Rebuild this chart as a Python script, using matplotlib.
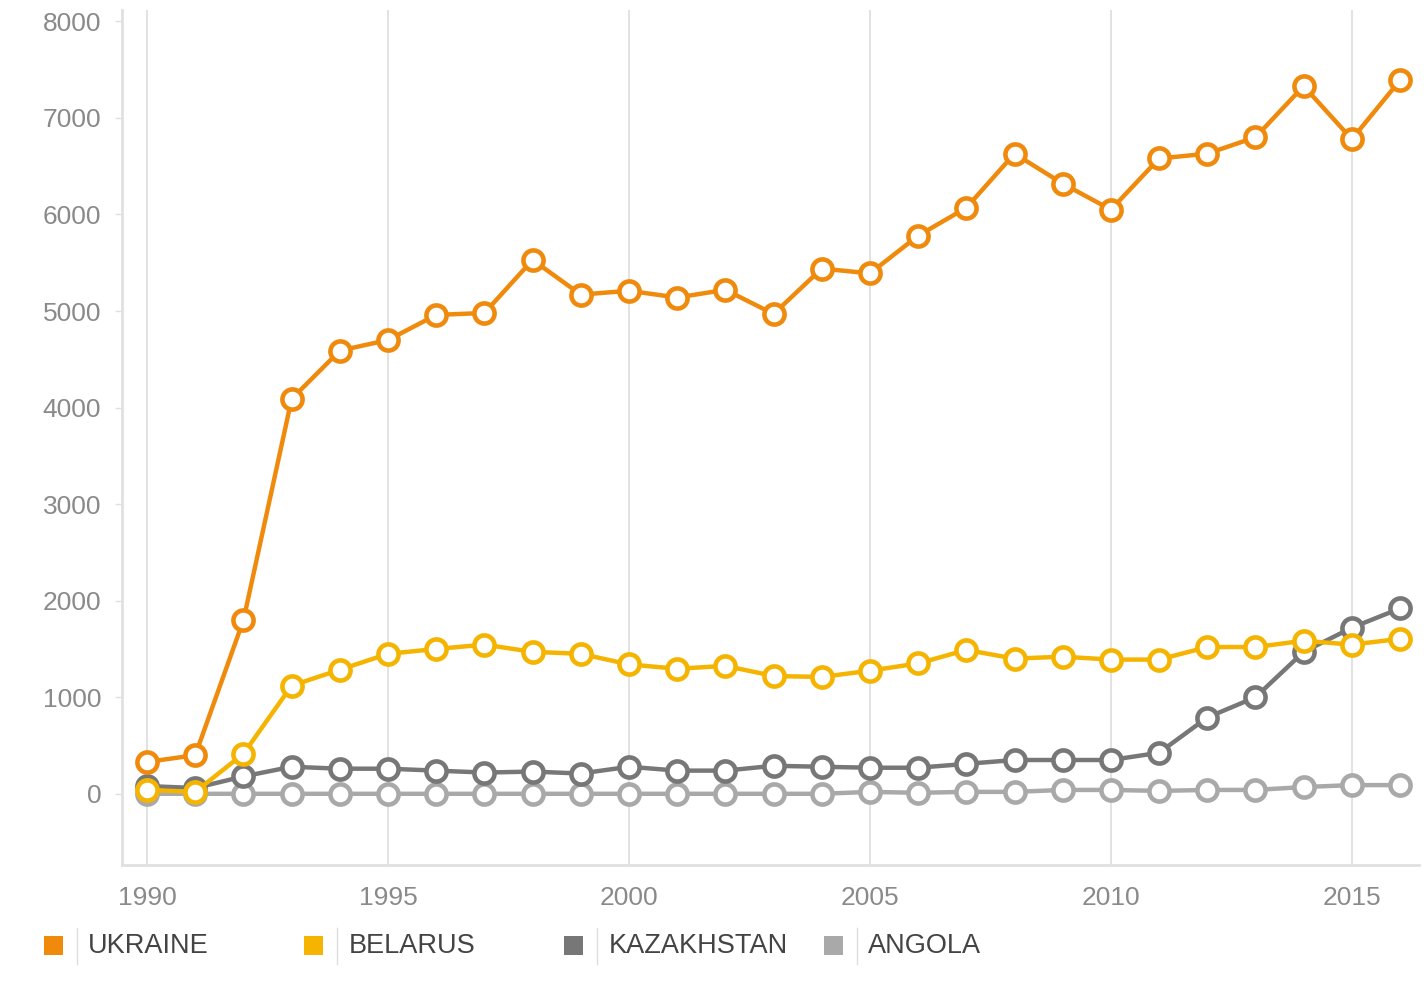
import matplotlib
matplotlib.use('Agg')
import matplotlib.pyplot as plt
from matplotlib.lines import Line2D
from matplotlib.patches import Rectangle
import numpy as np

plt.rcParams['font.family'] = ['Liberation Sans', 'DejaVu Sans']

years = np.arange(1990, 2017)

ukraine = [330, 400, 1800, 4090, 4590, 4700, 4960, 4980, 5530, 5170,
           5210, 5140, 5220, 4970, 5440, 5390, 5780, 6070, 6630, 6320,
           6050, 6580, 6630, 6800, 7330, 6780, 7390]
belarus = [40, 20, 415, 1120, 1285, 1450, 1500, 1545, 1470, 1450,
           1340, 1295, 1325, 1220, 1210, 1275, 1350, 1490, 1400, 1420,
           1390, 1390, 1520, 1520, 1585, 1545, 1605]
kazakhstan = [80, 60, 180, 280, 260, 260, 240, 220, 230, 210,
              280, 240, 240, 290, 280, 270, 270, 310, 350, 350,
              350, 425, 790, 1000, 1470, 1720, 1920]
angola = [0, 0, 0, 0, 0, 0, 0, 0, 0, 0,
          0, 0, 0, 0, 0, 20, 10, 20, 20, 40,
          40, 30, 40, 40, 70, 90, 90]

names = ['UKRAINE', 'BELARUS', 'KAZAKHSTAN', 'ANGOLA']
series = [ukraine, belarus, kazakhstan, angola]
colors = ['#f08a0c', '#f4b400', '#777777', '#a9a9a9']

fig = plt.figure(figsize=(14.24, 9.81), dpi=100)
ax = fig.add_axes([0.0857, 0.118, 0.911, 0.872])

# draw back to front so Ukraine sits on top
for vals, col in list(zip(series, colors))[::-1]:
    ax.plot(years, vals, color=col, linewidth=3.2, marker='o', markersize=14.5,
            markerfacecolor='white', markeredgecolor=col, markeredgewidth=3.3,
            clip_on=False, zorder=3)

ax.set_xlim(1989.48, 2016.4)
ax.set_ylim(-740, 8120)
ax.set_xticks([1990, 1995, 2000, 2005, 2010, 2015])
ax.set_yticks(np.arange(0, 8001, 1000))
ax.grid(axis='x', color='#dddddd', linewidth=1.2)
ax.grid(axis='y', visible=False)

for s in ['top', 'right']:
    ax.spines[s].set_visible(False)
for s in ['left', 'bottom']:
    ax.spines[s].set_color('#e0e0e0')
    ax.spines[s].set_linewidth(2)

ax.tick_params(axis='y', colors='#e0e0e0', labelcolor='#8a8a8a', labelsize=19,
               length=5, width=1, pad=10)
ax.tick_params(axis='x', length=0, labelcolor='#8a8a8a', labelsize=19, pad=15)

# legend along the bottom: square, thin separator, label
for i, (name, col) in enumerate(zip(names, colors)):
    x0 = 0.031 + i * 0.1826
    fig.patches.append(Rectangle((x0, 0.026), 0.0135, 0.0195, transform=fig.transFigure,
                                 facecolor=col, edgecolor='none'))
    fig.lines.append(Line2D([x0 + 0.023, x0 + 0.023], [0.017, 0.054],
                            transform=fig.transFigure, color='#dddddd', linewidth=1))
    fig.text(x0 + 0.031, 0.0355, name, color='#444444', fontsize=19.5, va='center')

fig.savefig('out.png', dpi=100, facecolor='white')
